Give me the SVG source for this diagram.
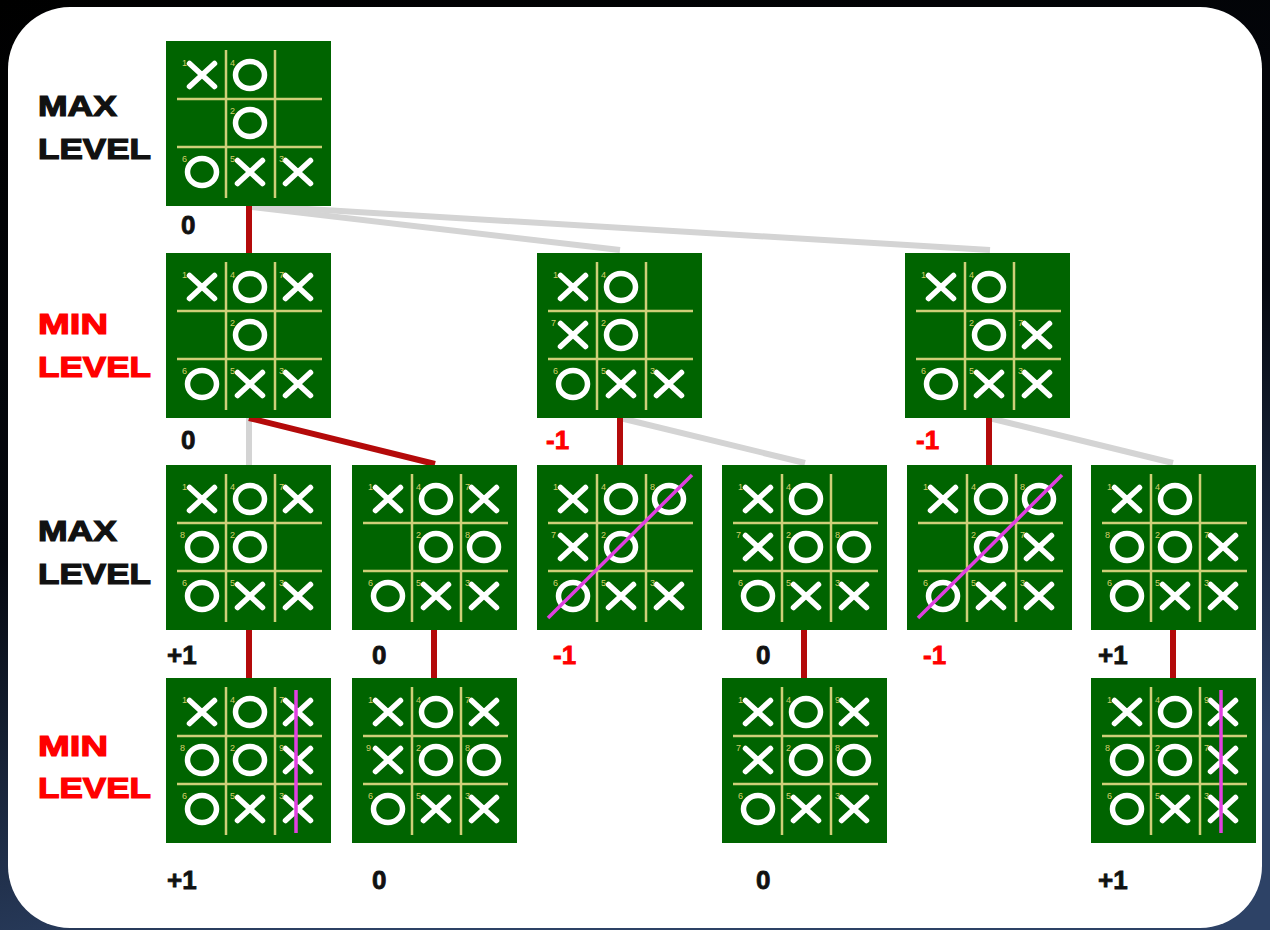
<svg xmlns="http://www.w3.org/2000/svg" xmlns:xlink="http://www.w3.org/1999/xlink" width="1270" height="930" viewBox="0 0 1270 930">
<style>
.board{fill:#006400}
.grid{stroke:#cfcf78;stroke-width:2.5;fill:none}
.mk{stroke:#ffffff;stroke-width:5.5;fill:none;stroke-linecap:round}
.num{font-family:"Liberation Sans",Arial,sans-serif;font-size:9px;fill:#d6cf6a}
.win{stroke:#e040e0;stroke-width:3.5;fill:none}
.lbl{font-family:"Liberation Sans",Arial,sans-serif;font-weight:bold;font-size:29px;stroke-width:1.2}
.sc{font-family:"Liberation Sans",Arial,sans-serif;font-weight:bold;font-size:26px;stroke-width:0.8}
.blk{fill:#111111;stroke:#111111}
.red{fill:#ff0000;stroke:#ff0000}
.cr{stroke:#b40a0a;stroke-width:6;fill:none}
.cg{stroke:#d4d4d4;stroke-width:6;fill:none}
</style>
<defs>
<linearGradient id="bg" x1="0" y1="0" x2="0.3" y2="1">
<stop offset="0" stop-color="#000000"/>
<stop offset="0.55" stop-color="#05080f"/>
<stop offset="1" stop-color="#2d4266"/>
</linearGradient>
<g id="X"><path class="mk" d="M-12.5,-11.5 L12.5,11.5 M12.5,-11.5 L-12.5,11.5"/></g>
<g id="O"><ellipse class="mk" cx="0" cy="0" rx="14.5" ry="13.5" stroke-width="5"/></g>
<g id="base">
<rect class="board" x="0" y="0" width="165" height="165"/>
<path class="grid" d="M60,9 V157 M109,9 V157 M11,58 H156 M11,106 H156"/>
<use xlink:href="#X" x="36" y="34"/><text class="num" x="16" y="25">1</text>
<use xlink:href="#O" x="84" y="34"/><text class="num" x="64" y="25">4</text>
<use xlink:href="#O" x="84" y="82"/><text class="num" x="64" y="73">2</text>
<use xlink:href="#O" x="36" y="131"/><text class="num" x="16" y="121">6</text>
<use xlink:href="#X" x="84" y="131"/><text class="num" x="64" y="121">5</text>
<use xlink:href="#X" x="132" y="131"/><text class="num" x="113" y="121">3</text>
</g>
</defs>
<rect x="0" y="0" width="1270" height="930" fill="url(#bg)"/>
<rect x="8" y="7" width="1254" height="921" rx="62" ry="62" fill="#ffffff"/>

<g id="labels">
<text class="lbl blk" x="38" y="116" textLength="79" lengthAdjust="spacingAndGlyphs">MAX</text>
<text class="lbl blk" x="38" y="159" textLength="113" lengthAdjust="spacingAndGlyphs">LEVEL</text>
<text class="lbl red" x="38" y="334" textLength="70" lengthAdjust="spacingAndGlyphs">MIN</text>
<text class="lbl red" x="38" y="377" textLength="113" lengthAdjust="spacingAndGlyphs">LEVEL</text>
<text class="lbl blk" x="38" y="541" textLength="79" lengthAdjust="spacingAndGlyphs">MAX</text>
<text class="lbl blk" x="38" y="584" textLength="113" lengthAdjust="spacingAndGlyphs">LEVEL</text>
<text class="lbl red" x="38" y="756" textLength="70" lengthAdjust="spacingAndGlyphs">MIN</text>
<text class="lbl red" x="38" y="798" textLength="113" lengthAdjust="spacingAndGlyphs">LEVEL</text>
</g>

<g id="connectors">
<path class="cg" d="M252,207 L620,250"/>
<path class="cg" d="M258,206 L990,250"/>
<path class="cr" d="M249,205 V253"/>
<path class="cg" d="M249,418 V465"/>
<path class="cr" d="M249,418 L435,464"/>
<path class="cg" d="M620,418 L805,463"/>
<path class="cr" d="M620,418 V465"/>
<path class="cg" d="M989,418 L1173,463"/>
<path class="cr" d="M989,418 V465"/>
<path class="cr" d="M249,630 V678"/>
<path class="cr" d="M434,630 V678"/>
<path class="cr" d="M804,630 V678"/>
<path class="cr" d="M1173,630 V678"/>
</g>

<g id="root" transform="translate(166,41)">
<use xlink:href="#base"/>
</g>
<text class="sc blk" x="181" y="234">0</text>

<g id="min1" transform="translate(166,253)">
<use xlink:href="#base"/>
<use xlink:href="#X" x="132" y="34"/><text class="num" x="113" y="25">7</text>
</g>
<text class="sc blk" x="181" y="449">0</text>

<g id="min2" transform="translate(537,253)">
<use xlink:href="#base"/>
<use xlink:href="#X" x="36" y="82"/><text class="num" x="14" y="73">7</text>
</g>
<text class="sc red" x="546" y="449">-1</text>

<g id="min3" transform="translate(905,253)">
<use xlink:href="#base"/>
<use xlink:href="#X" x="132" y="82"/><text class="num" x="113" y="73">7</text>
</g>
<text class="sc red" x="916" y="449">-1</text>

<g id="max1" transform="translate(166,465)">
<use xlink:href="#base"/>
<use xlink:href="#X" x="132" y="34"/><text class="num" x="113" y="25">7</text>
<use xlink:href="#O" x="36" y="82"/><text class="num" x="14" y="73">8</text>
</g>
<text class="sc blk" x="167" y="664">+1</text>

<g id="max2" transform="translate(352,465)">
<use xlink:href="#base"/>
<use xlink:href="#X" x="132" y="34"/><text class="num" x="113" y="25">7</text>
<use xlink:href="#O" x="132" y="82"/><text class="num" x="113" y="73">8</text>
</g>
<text class="sc blk" x="372" y="664">0</text>

<g id="max3" transform="translate(537,465)">
<use xlink:href="#base"/>
<use xlink:href="#X" x="36" y="82"/><text class="num" x="14" y="73">7</text>
<use xlink:href="#O" x="132" y="34"/><text class="num" x="113" y="25">8</text>
<path class="win" d="M11,153 L155,10"/>
</g>
<text class="sc red" x="553" y="664">-1</text>

<g id="max4" transform="translate(722,465)">
<use xlink:href="#base"/>
<use xlink:href="#X" x="36" y="82"/><text class="num" x="14" y="73">7</text>
<use xlink:href="#O" x="132" y="82"/><text class="num" x="113" y="73">8</text>
</g>
<text class="sc blk" x="756" y="664">0</text>

<g id="max5" transform="translate(907,465)">
<use xlink:href="#base"/>
<use xlink:href="#X" x="132" y="82"/><text class="num" x="113" y="73">7</text>
<use xlink:href="#O" x="132" y="34"/><text class="num" x="113" y="25">8</text>
<path class="win" d="M11,153 L155,10"/>
</g>
<text class="sc red" x="923" y="664">-1</text>

<g id="max6" transform="translate(1091,465)">
<use xlink:href="#base"/>
<use xlink:href="#X" x="132" y="82"/><text class="num" x="113" y="73">7</text>
<use xlink:href="#O" x="36" y="82"/><text class="num" x="14" y="73">8</text>
</g>
<text class="sc blk" x="1098" y="664">+1</text>

<g id="min4" transform="translate(166,678)">
<use xlink:href="#base"/>
<use xlink:href="#X" x="132" y="34"/><text class="num" x="113" y="25">7</text>
<use xlink:href="#O" x="36" y="82"/><text class="num" x="14" y="73">8</text>
<use xlink:href="#X" x="132" y="82"/><text class="num" x="113" y="73">9</text>
<path class="win" d="M130,12 V155"/>
</g>
<text class="sc blk" x="167" y="889">+1</text>

<g id="min5" transform="translate(352,678)">
<use xlink:href="#base"/>
<use xlink:href="#X" x="132" y="34"/><text class="num" x="113" y="25">7</text>
<use xlink:href="#O" x="132" y="82"/><text class="num" x="113" y="73">8</text>
<use xlink:href="#X" x="36" y="82"/><text class="num" x="14" y="73">9</text>
</g>
<text class="sc blk" x="372" y="889">0</text>

<g id="min6" transform="translate(722,678)">
<use xlink:href="#base"/>
<use xlink:href="#X" x="36" y="82"/><text class="num" x="14" y="73">7</text>
<use xlink:href="#O" x="132" y="82"/><text class="num" x="113" y="73">8</text>
<use xlink:href="#X" x="132" y="34"/><text class="num" x="113" y="25">9</text>
</g>
<text class="sc blk" x="756" y="889">0</text>

<g id="min7" transform="translate(1091,678)">
<use xlink:href="#base"/>
<use xlink:href="#X" x="132" y="82"/><text class="num" x="113" y="73">7</text>
<use xlink:href="#O" x="36" y="82"/><text class="num" x="14" y="73">8</text>
<use xlink:href="#X" x="132" y="34"/><text class="num" x="113" y="25">9</text>
<path class="win" d="M130,12 V155"/>
</g>
<text class="sc blk" x="1098" y="889">+1</text>
</svg>
